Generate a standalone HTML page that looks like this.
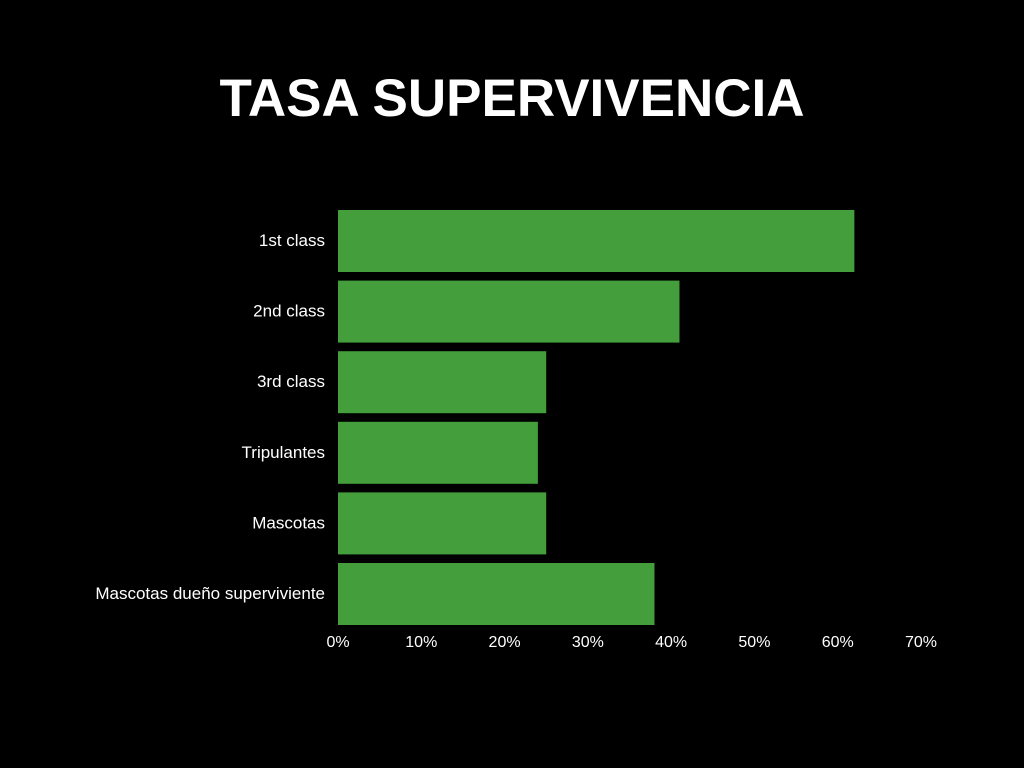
<!DOCTYPE html>
<html><head><meta charset="utf-8"><style>
html,body{margin:0;padding:0;background:#000;width:1024px;height:768px;overflow:hidden}
#title{position:absolute;left:0;width:1024px;top:68px;text-align:center;color:#fff;font-family:"Liberation Sans",sans-serif;font-weight:bold;font-size:53px;letter-spacing:0px}
svg{position:absolute;left:0;top:0}
text{font-family:"Liberation Sans",sans-serif;fill:#fff;font-size:16px}
text.cat{font-size:17px}
</style></head><body>
<div id="title">TASA SUPERVIVENCIA</div>
<svg id="chart" width="1024" height="768"></svg>
<script>
const categories=["1st class","2nd class","3rd class","Tripulantes","Mascotas","Mascotas dueño superviviente"];
const values=[62,41,25,24,25,38];
const ticks=[0,10,20,30,40,50,60,70];
const tickLabels=["0%","10%","20%","30%","40%","50%","60%","70%"];
const svg=document.getElementById('chart');
const NS="http://www.w3.org/2000/svg";
const x0=338,x1=921,yTop=210,band=70.6,barH=62;
const xs=v=>x0+(v-0)/(70-0)*(x1-x0);
const ys=i=>yTop+i*band;
categories.forEach((c,i)=>{
  const r=document.createElementNS(NS,'rect');
  r.setAttribute('x',xs(0));r.setAttribute('y',ys(i));
  r.setAttribute('width',xs(values[i])-xs(0));r.setAttribute('height',barH);
  r.setAttribute('fill','#439e3b');
  
  
  svg.appendChild(r);
  const t=document.createElementNS(NS,'text');
  t.setAttribute('x',x0-13);t.setAttribute('y',ys(i)+barH/2+5);
  t.setAttribute('text-anchor','end');t.setAttribute('class','cat');t.textContent=c;
  
  
  svg.appendChild(t);
});
ticks.forEach((v,i)=>{
  const t=document.createElementNS(NS,'text');
  t.setAttribute('x',xs(v));t.setAttribute('y',647);
  t.setAttribute('text-anchor','middle');t.textContent=tickLabels[i];
  
  
  svg.appendChild(t);
});
</script>
</body></html>
